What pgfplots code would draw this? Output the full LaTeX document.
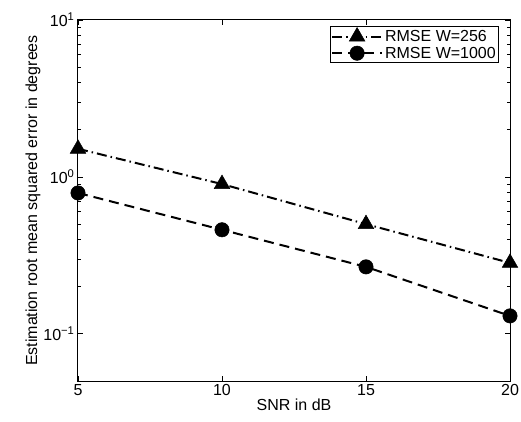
\documentclass[border=0pt]{standalone}
\usepackage{pgfplots}
\pgfplotsset{compat=1.18}
\usepackage{fontspec}
\setmainfont{Liberation Sans}
\begin{document}
\begin{tikzpicture}
\begin{semilogyaxis}[
  at={(0,0)}, anchor=south west,
  scale only axis,
  width=432pt, height=361pt,
  xmin=5, xmax=20, ymin=0.05, ymax=10,
  xtick={5,10,15,20},
  ytick={0.1,1,10},
  yticklabels={10\textsuperscript{−1},10\textsuperscript{0},10\textsuperscript{1}},
  /pgf/number format/assume math mode=true,
  tick align=inside,
  major tick length=5pt, minor tick length=3pt,
  tick style={black, line width=0.6pt},
  axis line style={line width=1pt},
  xlabel={SNR in dB}, ylabel={Estimation root mean squared error in degrees},
  label style={font=\fontsize{16}{18}\selectfont},
  xlabel style={yshift=4pt},
  ylabel style={yshift=-4pt},
  tick label style={font=\fontsize{16}{18}\selectfont},
  legend style={at={(0.975,0.983)}, anchor=north east, draw=black, line width=0.8pt,
    font=\fontsize{16}{18}\selectfont, inner sep=1pt, row sep=0pt,
    legend image code/.code={\draw[mark repeat=2,mark phase=2] plot coordinates {(0pt,0pt)(25pt,0pt)(50pt,0pt)};}},
  legend cell align=left,
  clip=false,
]
\addplot[black, line width=2pt, dash pattern=on 10pt off 4pt on 1.5pt off 4pt, mark=triangle*, mark size=9pt, mark options={solid, line width=0.5pt}]
 coordinates {(5,1.51) (10,0.90) (15,0.50) (20,0.283)};
\addlegendentry{RMSE W=256}
\addplot[black, line width=2pt, dash pattern=on 10pt off 6pt, mark=*, mark size=7.2pt, mark options={solid, line width=0.5pt}]
 coordinates {(5,0.79) (10,0.46) (15,0.267) (20,0.13)};
\addlegendentry{RMSE W=1000}
\end{semilogyaxis}
\pgfresetboundingbox
\path[use as bounding box] (-78pt,-41pt) rectangle (443pt,381pt);
\end{tikzpicture}
\end{document}
